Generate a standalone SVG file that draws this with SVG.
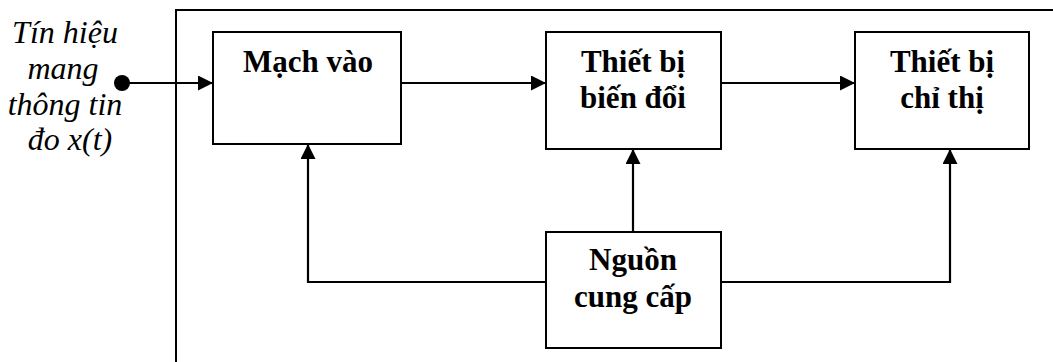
<svg xmlns="http://www.w3.org/2000/svg" width="1053" height="362" viewBox="0 0 1053 362">
  <defs>
    <marker id="arrow" markerWidth="16" markerHeight="16" refX="15" refY="7.5" orient="auto" markerUnits="userSpaceOnUse">
      <path d="M0,0 L15,7.5 L0,15 Z" fill="#000"/>
    </marker>
  </defs>
  <style>
    .box { fill: #fff; stroke: #000; stroke-width: 2; }
    .frame { fill: none; stroke: #000; stroke-width: 2; }
    .wire { fill: none; stroke: #000; stroke-width: 2.2; }
    text { font-family: 'Liberation Serif', 'Times New Roman', serif; text-anchor: middle; fill: #000; }
    .label { font-weight: bold; font-size: 31px; }
    .note { font-style: italic; font-size: 32px; }
  </style>

  <rect width="1053" height="362" fill="#fff"/>

  <!-- enclosing frame (open at right and bottom edges) -->
  <path class="frame" d="M176,362 L176,10 L1060,10"/>

  <!-- input signal caption -->
  <g id="input-label">
    <text class="note" x="65" y="43">Tín hiệu</text>
    <text class="note" x="63" y="79">mang</text>
    <text class="note" x="65" y="115">thông tin</text>
    <text class="note" x="70" y="150">đo x(t)</text>
  </g>

  <!-- blocks -->
  <g id="mach-vao">
    <rect class="box" x="213" y="32" width="188" height="112"/>
    <text class="label" x="308" y="72">Mạch vào</text>
  </g>
  <g id="thiet-bi-bien-doi">
    <rect class="box" x="546" y="32" width="175" height="117"/>
    <text class="label" x="633" y="72">Thiết bị</text>
    <text class="label" x="633" y="108">biến đổi</text>
  </g>
  <g id="thiet-bi-chi-thi">
    <rect class="box" x="855" y="32" width="174" height="117"/>
    <text class="label" x="942" y="72">Thiết bị</text>
    <text class="label" x="942" y="108">chỉ thị</text>
  </g>
  <g id="nguon-cung-cap">
    <rect class="box" x="546" y="232" width="175" height="116"/>
    <text class="label" x="633" y="270">Nguồn</text>
    <text class="label" x="633" y="307">cung cấp</text>
  </g>

  <!-- connectors -->
  <g id="connectors">
    <circle cx="122" cy="83" r="8" fill="#000"/>
    <path class="wire" d="M122,83 L213,83" marker-end="url(#arrow)"/>
    <path class="wire" d="M401,83 L546,83" marker-end="url(#arrow)"/>
    <path class="wire" d="M721,83 L855,83" marker-end="url(#arrow)"/>
    <path class="wire" d="M546,282 L308,282 L308,144" marker-end="url(#arrow)"/>
    <path class="wire" d="M633,232 L633,149" marker-end="url(#arrow)"/>
    <path class="wire" d="M721,282 L950,282 L950,149" marker-end="url(#arrow)"/>
  </g>
</svg>
